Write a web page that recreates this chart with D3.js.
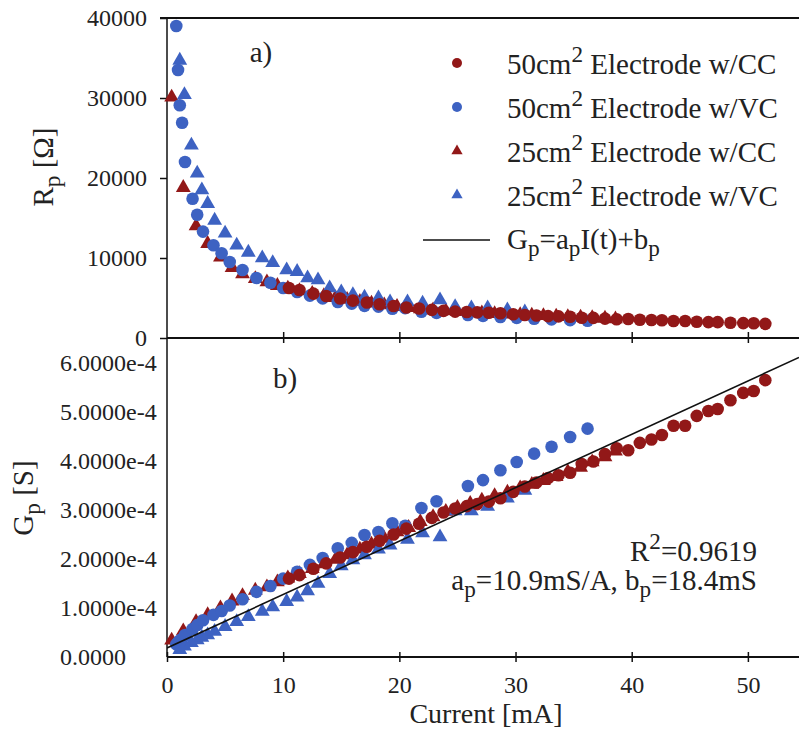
<!DOCTYPE html>
<html>
<head>
<meta charset="utf-8">
<script src="https://cdn.jsdelivr.net/npm/d3@7"></script>
<style>
  body { margin: 0; background: #fff; }
  text { font-family: "Liberation Serif", "Times New Roman", serif; fill: #222; }
</style>
</head>
<body>
<div id="chart"></div>
<script>
// 50cm2 electrode, current control (red circles)
const currentCC50 = [10.5, 11.4, 12.6, 13.7, 14.9, 16.0, 17.2, 18.3, 19.5, 20.6, 21.7, 22.8, 23.8, 24.8, 25.8, 26.7, 27.7, 28.7, 29.8, 30.8, 31.8, 32.8, 33.7, 34.7, 35.7, 36.7, 37.7, 38.7, 39.7, 40.7, 41.7, 42.6, 43.6, 44.6, 45.6, 46.6, 47.4, 48.5, 49.6, 50.5, 51.5];
const gpCC50 = [1.60, 1.67, 1.80, 1.91, 2.03, 2.14, 2.25, 2.37, 2.50, 2.62, 2.72, 2.84, 2.95, 3.03, 3.08, 3.12, 3.17, 3.24, 3.37, 3.48, 3.56, 3.65, 3.71, 3.76, 3.94, 3.99, 4.14, 4.26, 4.22, 4.37, 4.44, 4.53, 4.72, 4.72, 4.92, 5.02, 5.06, 5.24, 5.39, 5.43, 5.65]; // x1e-4 S
const rpCC50 = [6250, 6000, 5550, 5250, 4930, 4670, 4440, 4220, 4000, 3820, 3680, 3520, 3390, 3300, 3250, 3200, 3150, 3090, 2970, 2870, 2810, 2740, 2700, 2660, 2540, 2510, 2420, 2350, 2370, 2290, 2250, 2210, 2120, 2120, 2030, 1990, 1980, 1910, 1860, 1840, 1770];

// 50cm2 electrode, voltage control (blue circles)
const currentVC50 = [0.8, 0.95, 1.1, 1.3, 1.55, 2.2, 2.6, 3.1, 4.0, 4.7, 5.4, 6.5, 7.7, 8.9, 10.0, 11.2, 12.3, 13.4, 14.7, 15.9, 17.0, 18.2, 19.4, 20.5, 21.9, 23.2, 25.9, 27.2, 28.7, 30.1, 31.6, 33.1, 34.7, 36.2];
const gpVC50 = [0.26, 0.30, 0.34, 0.37, 0.45, 0.57, 0.65, 0.75, 0.86, 0.94, 1.05, 1.18, 1.33, 1.45, 1.60, 1.74, 1.88, 2.02, 2.22, 2.33, 2.49, 2.55, 2.73, 2.68, 3.04, 3.18, 3.49, 3.61, 3.81, 3.98, 4.15, 4.29, 4.49, 4.66];
const rpVC50 = [39000, 33500, 29100, 26900, 22000, 17400, 15400, 13300, 11600, 10600, 9500, 8500, 7500, 6900, 6250, 5750, 5300, 4950, 4500, 4300, 4020, 3920, 3660, 3730, 3290, 3140, 2870, 2770, 2620, 2510, 2410, 2330, 2230, 2150];

// 25cm2 electrode, current control (red triangles)
const currentCC25 = [0.4, 1.4, 2.5, 3.5, 4.6, 5.6, 6.5, 7.6, 8.6, 9.5, 10.4, 11.4, 12.5, 13.5, 14.5, 15.5, 16.6, 17.6, 18.7, 19.8, 20.8, 21.8, 22.9, 24.0, 25.0, 26.1, 27.1, 28.2, 29.3, 30.4, 31.4, 32.4, 33.5, 34.5, 35.6, 36.6, 37.7, 38.6];
const gpCC25 = [0.34, 0.53, 0.72, 0.86, 1.00, 1.14, 1.25, 1.36, 1.43, 1.53, 1.61, 1.70, 1.80, 1.90, 1.99, 2.08, 2.20, 2.30, 2.42, 2.55, 2.64, 2.76, 2.86, 2.97, 3.05, 3.13, 3.20, 3.29, 3.36, 3.45, 3.52, 3.60, 3.68, 3.78, 3.87, 3.98, 4.08, 4.20];
const rpCC25 = [30100, 18800, 14000, 11800, 10100, 8800, 8000, 7400, 7000, 6550, 6200, 5900, 5560, 5260, 5030, 4810, 4550, 4350, 4130, 3920, 3790, 3620, 3500, 3370, 3280, 3190, 3130, 3040, 2980, 2900, 2840, 2780, 2720, 2650, 2580, 2510, 2450, 2380];

// 25cm2 electrode, voltage control (blue triangles)
const currentVC25 = [1.1, 1.5, 2.1, 2.6, 3.0, 3.5, 4.1, 5.0, 6.0, 7.0, 8.2, 9.1, 10.3, 11.2, 12.1, 13.0, 14.0, 15.0, 16.0, 17.0, 18.2, 19.2, 20.7, 22.0, 23.5, 24.8, 26.2, 27.6, 29.3, 30.8];
const gpVC25 = [0.15, 0.22, 0.29, 0.35, 0.40, 0.45, 0.52, 0.62, 0.72, 0.82, 0.93, 1.02, 1.13, 1.22, 1.35, 1.50, 1.70, 1.86, 1.98, 2.08, 2.20, 2.28, 2.40, 2.53, 2.45, 2.98, 2.98, 3.07, 3.24, 3.40];
const rpVC25 = [34700, 30400, 24100, 20600, 18500, 16800, 14700, 13100, 11600, 10700, 10000, 9400, 8500, 8300, 7500, 7250, 6250, 5750, 5400, 5100, 5000, 4500, 4500, 4350, 4750, 3900, 3750, 3750, 3500, 3250];

// linear fit Gp = ap*I + bp (x1e-4 S, I in mA)
const fitSlope = 0.109;
const fitIntercept = 0.184;

const currentTicks = [0, 10, 20, 30, 40, 50];
const rpTicks = [0, 10000, 20000, 30000, 40000];
const gpTicks = [0, 1, 2, 3, 4, 5, 6];
const gpTickLabels = ["0.0000", "1.0000e-4", "2.0000e-4", "3.0000e-4", "4.0000e-4", "5.0000e-4", "6.0000e-4"];

const RED = "#921818";
const BLUE = "#3d62c2";

const width = 799, height = 733;
const svg = d3.select("#chart").append("svg")
    .attr("width", width)
    .attr("height", height);

const x = d3.scaleLinear().domain([0, 54.4]).range([167, 799]);
const yR = d3.scaleLinear().domain([0, 40000]).range([338, 18]);
const yG = d3.scaleLinear().domain([0, 6.5]).range([657, 338.5]);

// text with sub/superscript pieces
function richText(parent, tx, ty, parts, size, anchor, rotate) {
    const t = parent.append("text")
        .attr("transform", `translate(${tx},${ty})` + (rotate ? ` rotate(${rotate})` : ""))
        .attr("text-anchor", anchor || "start")
        .style("font-size", size + "px");
    let shift = 0;
    parts.forEach(([str, kind]) => {
        const off = kind === "sub" ? size * 0.25 : kind === "sup" ? -size * 0.4 : 0;
        t.append("tspan")
            .attr("dy", off - shift)
            .style("font-size", (kind ? size * 0.8 : size) + "px")
            .text(str);
        shift = off;
    });
    return t;
}

// axes
const axisColor = "#111";

const gRy = svg.append("g").attr("transform", "translate(167,0)")
    .call(d3.axisLeft(yR).tickValues(rpTicks).tickSize(7).tickPadding(13).tickFormat(d => d));
const gGy = svg.append("g").attr("transform", "translate(167,0)")
    .call(d3.axisLeft(yG).tickValues(gpTicks).tickSize(0).tickFormat((d, i) => gpTickLabels[i]));
gGy.selectAll("text").attr("text-anchor", "start").attr("x", 60 - 167);

const gMid = svg.append("g").attr("transform", "translate(0,338)")
    .call(d3.axisBottom(x).tickValues(currentTicks.slice(1)).tickSize(5).tickFormat(""));
gMid.selectAll(".tick line").attr("y1", -6);

const gBot = svg.append("g").attr("transform", "translate(0,657)")
    .call(d3.axisBottom(x).tickValues(currentTicks).tickSize(5).tickPadding(14));
gBot.selectAll(".tick line").attr("y1", -5);

[gRy, gGy, gMid, gBot].forEach(g => {
    g.select(".domain").remove();
    g.selectAll(".tick line").attr("stroke", axisColor).attr("stroke-width", 1.5);
    g.selectAll("text").style("font-size", "24px").style("font-family", null).attr("fill", "#222");
});

// frame lines
svg.append("line").attr("x1", 160).attr("x2", 799).attr("y1", 18).attr("y2", 18)
    .attr("stroke", axisColor).attr("stroke-width", 2);
svg.append("line").attr("x1", 167).attr("x2", 799).attr("y1", 338).attr("y2", 338)
    .attr("stroke", axisColor).attr("stroke-width", 2);
svg.append("line").attr("x1", 167).attr("x2", 799).attr("y1", 657).attr("y2", 657)
    .attr("stroke", axisColor).attr("stroke-width", 2);
svg.append("line").attr("x1", 167).attr("x2", 167).attr("y1", 18).attr("y2", 657)
    .attr("stroke", axisColor).attr("stroke-width", 1.5);

// series, in drawing order
const series = [
    { name: "CC25", xs: currentCC25, g: gpCC25, r: rpCC25, color: RED, shape: "tri" },
    { name: "VC50", xs: currentVC50, g: gpVC50, r: rpVC50, color: BLUE, shape: "circle" },
    { name: "VC25", xs: currentVC25, g: gpVC25, r: rpVC25, color: BLUE, shape: "tri" },
    { name: "CC50", xs: currentCC50, g: gpCC50, r: rpCC50, color: RED, shape: "circle" }
];

const triPath = d3.symbol(d3.symbolTriangle).size(95)();

function drawMarks(parent, pts, s) {
    if (s.shape === "circle") {
        parent.selectAll("circle." + s.name).data(pts).enter().append("circle")
            .attr("class", s.name)
            .attr("cx", d => d[0]).attr("cy", d => d[1]).attr("r", 6.3)
            .attr("fill", s.color);
    } else {
        parent.selectAll("path." + s.name).data(pts).enter().append("path")
            .attr("class", s.name)
            .attr("d", triPath)
            .attr("transform", d => `translate(${d[0]},${d[1]})`)
            .attr("fill", s.color);
    }
}

const marksA = svg.append("g");
const marksB = svg.append("g");
series.forEach(s => {
    drawMarks(marksA, s.xs.map((v, i) => [x(v), yR(s.r[i])]), s);
    drawMarks(marksB, s.xs.map((v, i) => [x(v), yG(s.g[i])]), s);
});

// fit line in panel b
svg.append("clipPath").attr("id", "clipB").append("rect")
    .attr("x", 167).attr("y", 338).attr("width", 632).attr("height", 319);
svg.append("line")
    .attr("clip-path", "url(#clipB)")
    .attr("x1", x(0)).attr("y1", yG(fitIntercept))
    .attr("x2", x(54.4)).attr("y2", yG(fitIntercept + fitSlope * 54.4))
    .attr("stroke", "#111").attr("stroke-width", 1.6);

// panel labels
richText(svg, 261, 62, [["a)"]], 29, "middle");
richText(svg, 285, 388, [["b)"]], 29, "middle");

// legend
const legendRows = [
    { shape: "circle", color: RED, parts: [["50cm"], ["2", "sup"], [" Electrode w/CC"]] },
    { shape: "circle", color: BLUE, parts: [["50cm"], ["2", "sup"], [" Electrode w/VC"]] },
    { shape: "tri", color: RED, parts: [["25cm"], ["2", "sup"], [" Electrode w/CC"]] },
    { shape: "tri", color: BLUE, parts: [["25cm"], ["2", "sup"], [" Electrode w/VC"]] }
];
const legendY = [63, 107, 151, 195];
const legendTri = d3.symbol(d3.symbolTriangle).size(55)();
legendRows.forEach((row, i) => {
    const ly = legendY[i];
    if (row.shape === "circle") {
        svg.append("circle").attr("cx", 457).attr("cy", ly).attr("r", 5).attr("fill", row.color);
    } else {
        svg.append("path").attr("d", legendTri).attr("transform", `translate(457,${ly})`).attr("fill", row.color);
    }
    richText(svg, 507, ly + 11, row.parts, 29, "start");
});
svg.append("line").attr("x1", 423).attr("x2", 490).attr("y1", 240).attr("y2", 240)
    .attr("stroke", "#111").attr("stroke-width", 1.5);
richText(svg, 507, 249, [["G"], ["p", "sub"], ["=a"], ["p", "sub"], ["I(t)+b"], ["p", "sub"]], 29, "start");

// fit annotation
richText(svg, 757, 561, [["R"], ["2", "sup"], ["=0.9619"]], 29, "end");
richText(svg, 757, 590, [["a"], ["p", "sub"], ["=10.9mS/A, b"], ["p", "sub"], ["=18.4mS"]], 29, "end");

// axis titles
richText(svg, 53, 167, [["R"], ["p", "sub"], [" [Ω]"]], 29, "middle", -90);
richText(svg, 33, 498, [["G"], ["p", "sub"], [" [S]"]], 29, "middle", -90);
richText(svg, 486, 723, [["Current [mA]"]], 28, "middle");
</script>
</body>
</html>
